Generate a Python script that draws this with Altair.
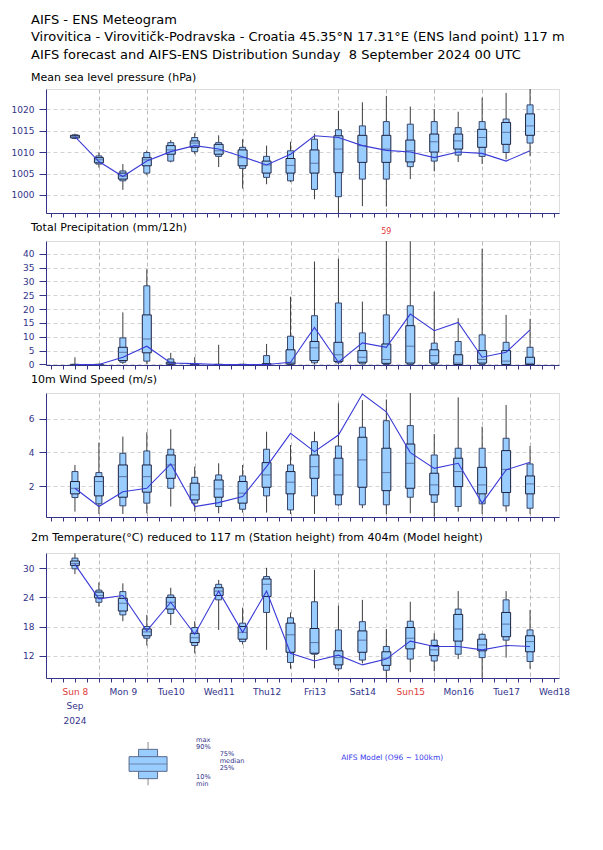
import altair as alt
import pandas as pd

FONT = "DejaVu Sans"
NAVY = "#33338a"
RED = "#e03c3c"

# forecast steps (hours after Sun 8 Sep 2024 00 UTC)
steps = [12, 24, 36, 48, 60, 72, 84, 96, 108, 120,
         132, 144, 156, 168, 180, 192, 204, 216, 228, 240]

# ---- Mean sea level pressure (hPa)
msl_min = [1013.0, 1006.4, 1001.2, 1004.6, 1007.6, 1009.5, 1006.5, 1001.5, 1002.5, 1003.0,
           999.0, 995.0, 997.4, 997.3, 1003.7, 1005.5, 1007.7, 1007.2, 1008.3, 1009.1]
msl_p10 = [1013.2, 1007.2, 1003.3, 1005.1, 1007.9, 1010.1, 1009.0, 1006.2, 1004.1, 1003.3,
           1001.3, 999.6, 1003.7, 1003.7, 1006.6, 1007.9, 1009.3, 1009.0, 1009.9, 1012.1]
msl_p25 = [1013.3, 1007.5, 1003.7, 1006.8, 1009.5, 1011.1, 1009.5, 1006.8, 1005.1, 1005.1,
           1005.1, 1005.2, 1007.6, 1007.6, 1007.7, 1010.0, 1010.7, 1011.1, 1011.8, 1013.9]
msl_med = [1013.6, 1008.2, 1004.4, 1008.2, 1010.5, 1012.1, 1010.3, 1008.7, 1007.0, 1006.9,
           1007.4, 1010.7, 1011.5, 1010.7, 1010.3, 1012.4, 1012.6, 1013.4, 1014.6, 1016.1]
msl_p75 = [1013.9, 1008.7, 1005.1, 1008.7, 1011.5, 1012.6, 1011.8, 1010.5, 1007.9, 1008.5,
           1010.5, 1013.8, 1013.9, 1013.9, 1012.8, 1014.2, 1014.2, 1015.3, 1016.9, 1018.9]
msl_p90 = [1014.0, 1009.1, 1005.6, 1009.9, 1012.2, 1013.4, 1012.2, 1011.1, 1009.0, 1010.3,
           1013.0, 1015.2, 1016.1, 1017.1, 1016.5, 1017.1, 1015.7, 1017.1, 1017.7, 1021.0]
msl_max = [1014.3, 1009.9, 1007.2, 1010.4, 1012.8, 1014.4, 1013.9, 1013.0, 1011.5, 1012.4,
           1014.3, 1019.6, 1021.6, 1023.1, 1020.6, 1020.0, 1019.4, 1022.7, 1023.8, 1024.7]
msl_ctl = [1013.6, 1007.8, 1004.3, 1007.9, 1010.1, 1011.5, 1010.7, 1008.9, 1007.0, 1009.5,
           1013.8, 1013.4, 1011.5, 1010.4, 1010.0, 1008.7, 1010.0, 1009.7, 1007.9, 1010.3]

# ---- Total precipitation (mm/12h)
tp_min = [0, 0, 0.2, 0.2, 0, 0, 0, 0, 0, 0,
          0, 0, 0, 0, 0, 0, 0, 0, 0, 0]
tp_p10 = [0, 0, 0.8, 1.2, 0, 0, 0, 0, 0, 0,
          0.6, 0.6, 0.2, 0, 0, 0, 0, 0, 0, 0]
tp_p25 = [0, 0, 1.4, 4.2, 0.1, 0, 0, 0, 0, 0.2,
          1.4, 1.1, 0.8, 0.4, 0.5, 0.5, 0, 0.5, 0, 0]
tp_med = [0, 0, 4.4, 9.2, 0.4, 0, 0, 0, 0, 0.8,
          6.0, 3.5, 2.6, 1.8, 6.6, 3.2, 0.5, 1.8, 1.2, 0.4]
tp_p75 = [0, 0, 6.2, 17.9, 0.8, 0, 0, 0, 0.3, 5.3,
          8.3, 8.0, 5.0, 7.4, 14.0, 5.3, 3.5, 5.0, 5.0, 2.6]
tp_p90 = [0, 0, 9.6, 28.4, 2.0, 0.1, 0, 0, 3.2, 10.2,
          17.6, 22.2, 11.4, 17.9, 21.2, 7.7, 8.3, 10.7, 8.0, 6.2]
tp_max = [2.6, 0.3, 18.8, 34.4, 4.2, 2.6, 7.1, 0.2, 7.4, 24.5,
          37.2, 38.2, 22.7, 59.0, 44.5, 26.3, 16.7, 41.8, 17.9, 16.4]
tp_ctl = [0, 0, 2.6, 6.6, 0.5, 0.3, 0, 0, 0, 0.8,
          13.4, 0.8, 7.8, 6.2, 18.2, 12.2, 15.2, 2.6, 4.4, 12.5]

# ---- 10m wind speed (m/s)
ws_min = [0.50, 0.36, 0.36, 0.40, 0.80, 0.50, 0.40, 0.44, 0.44, 0.36,
          0.36, 0.84, 0.70, 0.36, 0.40, 0.20, 0.50, 0.36, 0.50, 0.36]
ws_p10 = [1.33, 0.96, 0.84, 1.00, 1.88, 1.00, 0.80, 0.64, 1.43, 0.60,
          1.43, 0.90, 0.90, 0.90, 1.35, 1.05, 0.80, 0.96, 0.84, 0.70]
ws_p25 = [1.55, 1.43, 1.35, 1.65, 2.47, 1.19, 1.35, 1.00, 1.94, 1.55,
          2.47, 1.49, 1.94, 1.74, 1.88, 1.49, 1.98, 1.55, 1.63, 1.55]
ws_med = [1.88, 2.28, 2.57, 2.57, 3.26, 1.49, 1.84, 1.59, 2.67, 2.24,
          3.16, 2.67, 3.56, 2.81, 3.36, 2.08, 2.87, 2.08, 3.00, 2.14]
ws_p75 = [2.28, 2.57, 3.26, 3.26, 3.85, 2.18, 2.37, 2.28, 3.40, 2.87,
          3.85, 3.66, 4.90, 4.25, 4.50, 2.77, 3.66, 3.12, 4.11, 2.61]
ws_p90 = [2.87, 2.81, 3.95, 4.09, 4.19, 2.53, 2.67, 2.61, 4.19, 3.26,
          4.64, 4.38, 5.49, 5.88, 5.59, 3.85, 4.25, 4.25, 4.84, 3.32]
ws_max = [3.26, 4.58, 4.94, 5.19, 5.37, 3.16, 3.36, 3.26, 5.23, 4.44,
          5.23, 6.91, 7.10, 7.14, 7.52, 5.09, 7.26, 5.53, 6.81, 4.38]
ws_ctl = [1.88, 0.80, 1.68, 1.88, 3.32, 0.80, 1.03, 1.39, 3.16, 5.13,
          4.05, 5.03, 7.46, 6.41, 3.99, 3.06, 3.36, 1.00, 2.97, 3.42]

# ---- 2m temperature (C)
t2_min = [28.8, 22.1, 19.1, 14.1, 18.3, 12.5, 17.3, 14.3, 13.2, 9.3,
          9.4, 8.8, 10.4, 7.0, 8.6, 8.8, 11.3, 7.0, 11.6, 9.3]
t2_p10 = [29.9, 23.0, 20.4, 15.6, 20.7, 14.1, 23.5, 14.9, 20.9, 10.6,
          12.3, 9.3, 11.1, 9.0, 11.3, 10.9, 12.3, 11.6, 15.2, 10.8]
t2_p25 = [30.6, 23.9, 21.2, 16.1, 21.6, 14.7, 24.4, 15.4, 24.2, 12.7,
          12.5, 10.1, 12.7, 10.0, 13.4, 12.0, 15.0, 13.0, 15.9, 12.8]
t2_med = [31.0, 24.4, 22.8, 16.9, 23.0, 15.7, 25.3, 16.8, 26.7, 16.3,
          14.7, 11.6, 15.2, 11.5, 15.6, 13.2, 17.5, 14.2, 18.5, 14.9]
t2_p75 = [31.5, 25.1, 23.8, 17.5, 24.0, 16.6, 26.0, 18.0, 27.8, 18.7,
          17.6, 13.0, 17.1, 12.8, 17.8, 14.1, 20.5, 15.4, 20.9, 16.1]
t2_p90 = [32.1, 25.5, 25.2, 18.0, 24.5, 17.8, 26.7, 18.7, 28.3, 19.8,
          23.1, 17.3, 19.0, 13.9, 19.1, 15.2, 21.6, 16.4, 23.5, 17.3]
t2_max = [33.1, 27.1, 26.9, 20.4, 26.0, 19.1, 27.6, 21.9, 30.1, 20.9,
          29.7, 22.3, 23.5, 17.5, 23.1, 16.6, 25.3, 16.6, 25.3, 21.4]
t2_ctl = [30.8, 23.7, 24.4, 17.1, 23.0, 16.4, 25.3, 16.8, 25.3, 12.5,
          10.9, 12.1, 10.1, 11.3, 15.0, 13.9, 13.9, 13.2, 14.1, 13.9]

# ---- axis texts
day_labels = ["Sun 8", "Mon 9", "Tue10", "Wed11", "Thu12", "Fri13",
              "Sat14", "Sun15", "Mon16", "Tue17", "Wed18"]
first_extra = ["Sep", "2024"]
tick_hours = list(range(0, 253, 6))

title_lines = [
    "AIFS - ENS Meteogram",
    "Virovitica - Virovitičk-Podravska - Croatia 45.35°N 17.31°E (ENS land point) 117 m",
    "AIFS forecast and AIFS-ENS Distribution Sunday \u00a08 September 2024 00 UTC",
]

legend_labels = ["max", "90%", "75%", "median", "25%", "10%", "min"]
model_label = "AIFS Model (O96 ~ 100km)"

# ---------------------------------------------------------------
def q(s):
    return "'" + s + "'"

label_list = "[" + ",".join(q(s) for s in day_labels) + "]"
label_expr = f"datum.value % 24 != 12 ? '' : {label_list}[floor(datum.value / 24)]"

W = 513
H = 124
TDX = -15


def x_axis(show_labels):
    kw = dict(values=tick_hours, title=None, grid=True,
              gridOpacity=alt.condition("datum.value % 24 == 0 && datum.value > 0",
                                        alt.value(1), alt.value(0)),
              gridColor="#a8a8a8", gridDash=[4, 3], gridWidth=0.8,
              domainColor=NAVY, tickColor=NAVY, tickSize=4, ticks=True,
              labels=show_labels)
    if show_labels:
        kw.update(labelExpr=label_expr,
                  labelColor=alt.condition("floor(datum.value / 24) % 7 == 0",
                                           alt.value(RED), alt.value(NAVY)),
                  labelFont=FONT, labelFontSize=9, labelPadding=5,
                  labelOverlap=False, labelBound=False, labelFlush=False)
    return alt.Axis(**kw)


def panel(vals, title, ydom, yticks, show_labels=False, title_offset=6, height=H,
          show_over=False):
    mn, p10, p25, med, p75, p90, mx, ctl = vals
    df = pd.DataFrame({"step": steps, "lo": mn, "p10": p10, "p25": p25, "med": med,
                       "p75": p75, "p90": p90, "hi": mx, "ctl": ctl})
    xscale = alt.Scale(domain=[0, 252], nice=False, zero=False)
    xenc = alt.X("step:Q", scale=xscale, axis=x_axis(show_labels))
    yscale = alt.Scale(domain=ydom, nice=False, zero=False)
    yaxis = alt.Axis(values=yticks, title=None, grid=True, gridColor="#c8c8c8",
                     gridDash=[4, 3], gridWidth=0.8, domainColor=NAVY, tickColor=NAVY,
                     tickSize=7, labelColor=NAVY, labelFont=FONT, labelFontSize=9,
                     labelPadding=5, format="d", minExtent=35, maxExtent=35)

    def Y(f):
        return alt.Y(f + ":Q", scale=yscale, axis=yaxis)

    base = alt.Chart(df).encode(x=xenc)
    whisk = base.mark_rule(color="#3c3c3c", strokeWidth=1, clip=True).encode(
        y=Y("lo"), y2="hi")
    narrow = base.mark_bar(size=6, fill="#99ccff", stroke="#38466a", strokeWidth=1,
                           clip=True).encode(y=Y("p10"), y2="p90")
    wide = base.mark_bar(size=9, fill="#99ccff", stroke="#1e2440", strokeWidth=1,
                         clip=True).encode(y=Y("p25"), y2="p75")
    median = base.mark_tick(orient="horizontal", size=9, thickness=1, color="#40507a",
                            clip=True).encode(y=Y("med"))
    line = base.mark_line(color="#3a3ad8", strokeWidth=1.1, clip=True).encode(y=Y("ctl"))
    layers = [whisk, narrow, wide, median, line]
    if show_over:
        over = base.transform_filter(f"datum.hi > {ydom[1]}").mark_text(
            color=RED, fontSize=8, font=FONT).encode(
            y=alt.value(-9), text=alt.Text("hi:Q", format=".0f"))
        layers.append(over)
    if show_labels:
        # month / year under the first day label
        md = pd.DataFrame({"step": [steps[0]] * len(first_extra), "txt": first_extra})
        for i, t in enumerate(first_extra):
            layers.append(
                alt.Chart(md[md.txt == t]).mark_text(
                    font=FONT, fontSize=9, color=NAVY, baseline="middle").encode(
                    x=alt.X("step:Q", scale=xscale, axis=x_axis(show_labels)),
                    y=alt.value(height + 28 + 15 * i), text="txt:N"))
    return alt.layer(*layers).properties(
        width=W, height=height,
        title=alt.TitleParams(text=title, anchor="start", frame="group", dx=TDX,
                              font=FONT, fontSize=11, fontWeight="normal",
                              color="black", offset=title_offset))


p1 = panel((msl_min, msl_p10, msl_p25, msl_med, msl_p75, msl_p90, msl_max, msl_ctl),
           "Mean sea level pressure (hPa)", [995.8, 1024.7],
           [1000, 1005, 1010, 1015, 1020], title_offset=6)
p2 = panel((tp_min, tp_p10, tp_p25, tp_med, tp_p75, tp_p90, tp_max, tp_ctl),
           "Total Precipitation (mm/12h)", [-0.2, 44.6],
           [0, 5, 10, 15, 20, 25, 30, 35, 40], title_offset=-5, show_over=True)
p3 = panel((ws_min, ws_p10, ws_p25, ws_med, ws_p75, ws_p90, ws_max, ws_ctl),
           "10m Wind Speed (m/s)", [0.18, 7.52], [2, 4, 6], title_offset=8)
p4 = panel((t2_min, t2_p10, t2_p25, t2_med, t2_p75, t2_p90, t2_max, t2_ctl),
           "2m Temperature(°C) reduced to 117 m (Station height) from 404m (Model height)",
           [7.4, 33.15], [12, 18, 24, 30], show_labels=True, title_offset=10, height=125)

# ---- legend (glyph drawn with an example distribution on its own scales)
leg_box = pd.DataFrame({"x": [99], "lo": [0.1], "p10": [1], "p25": [2], "med": [3],
                        "p75": [4], "p90": [5], "hi": [6]})
leg_text = pd.DataFrame({"label": legend_labels,
                         "x": [148, 148, 172, 172, 172, 148, 148],
                         "y": [6.3, 5.35, 4.4, 3.45, 2.5, 1.2, 0.25]})
model_df = pd.DataFrame({"label": [model_label], "x": [296], "y": [3.85]})

lx = alt.Scale(domain=[0, W], nice=False, zero=False)
ly = alt.Scale(domain=[0, 6], nice=False, zero=False)
LH = 44
lbase = alt.Chart(leg_box).encode(x=alt.X("x:Q", scale=lx, axis=None))
l_wh = lbase.mark_rule(color="#8a8a8a", strokeWidth=1).encode(
    y=alt.Y("lo:Q", scale=ly, axis=None), y2="hi")
l_nb = lbase.mark_bar(size=19, fill="#99ccff", stroke="#5a6a8a", strokeWidth=1).encode(
    y=alt.Y("p10:Q", scale=ly, axis=None), y2="p90")
l_wb = lbase.mark_bar(size=38, fill="#99ccff", stroke="#5a6a8a", strokeWidth=1).encode(
    y=alt.Y("p25:Q", scale=ly, axis=None), y2="p75")
l_md = lbase.mark_tick(orient="horizontal", size=38, thickness=1, color="#5a6a8a").encode(
    y=alt.Y("med:Q", scale=ly, axis=None))
l_tx = alt.Chart(leg_text).mark_text(align="left", baseline="middle", font=FONT,
                                     fontSize=6.6, color=NAVY).encode(
    x=alt.X("x:Q", scale=lx, axis=None), y=alt.Y("y:Q", scale=ly, axis=None),
    text="label:N")
l_md_tx = alt.Chart(model_df).mark_text(align="left", baseline="middle", font=FONT,
                                        fontSize=7.5, color="#3a3aee").encode(
    x=alt.X("x:Q", scale=lx, axis=None), y=alt.Y("y:Q", scale=ly, axis=None),
    text="label:N")
legend = alt.layer(l_wh, l_nb, l_wb, l_md, l_tx, l_md_tx).properties(
    width=W, height=LH, view=alt.ViewBackground(strokeOpacity=0))

top = alt.vconcat(p1, p2, p3, spacing=3)
chart = alt.vconcat(top, p4, legend, spacing=9).properties(
    title=alt.TitleParams(text=title_lines, anchor="start", frame="group", dx=TDX,
                          font=FONT, fontSize=13, fontWeight="normal", color="black",
                          lineHeight=17.5, offset=10),
    padding={"left": 2, "top": 5, "right": 5, "bottom": 5},
).configure_view(stroke="#b4b4b4").configure(font=FONT)

chart.save("out.html", embed_options={"renderer": "svg", "actions": False})
